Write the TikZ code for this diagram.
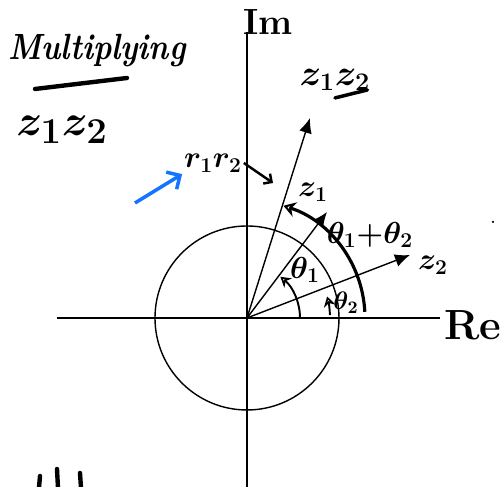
\documentclass[tikz,border=0pt]{standalone}
\usepackage{amsmath}
\usepackage{tikz}
\usetikzlibrary{arrows, arrows.meta, positioning, calc}

\begin{document}
\begin{tikzpicture}[
    axis/.style={line width=0.8pt},
    vec/.style={line width=0.8pt, -{Latex[length=3mm, width=2.6mm]}},
    angarc/.style={line width=1.1pt, -{Stealth[length=2mm, width=2.4mm, open]}},
    bigarc/.style={line width=1.8pt, -{Stealth[length=2.4mm, width=3mm, open]}},
    lab/.style={font=\huge\boldmath, inner sep=1pt},
    ink/.style={line width=2pt, line cap=round}
]
    \useasboundingbox (-4.94,-3.38) rectangle (5.12,6.36);

    % Axes and unit circle
    \coordinate (O) at (0,0);
    \coordinate (imtop) at (0,5.72);
    \coordinate (imbot) at (0,-3.38);
    \coordinate (releft) at (-3.8,0);
    \coordinate (reright) at (3.86,0);
    \draw[axis] (imbot) -- (imtop);
    \draw[axis] (releft) -- (reright);
    \draw[axis] (O) circle[radius=1.84];

    \node[font=\huge\bfseries] (im) at (0.42,5.92) {Im};
    \node[font=\fontsize{24}{26}\selectfont\bfseries, inner sep=0pt] (re) at (4.52,-0.14) {Re};

    % Vectors
    \coordinate (zprod) at (1.26,4.0);
    \coordinate (zone) at (1.6,2.12);
    \coordinate (ztwo) at (3.26,1.26);
    \draw[vec] (O) -- (zprod);
    \draw[vec] (O) -- (zone);
    \draw[vec] (O) -- (ztwo);

    % Angle arcs
    \draw[bigarc] (3:2.36) arc[start angle=3, end angle=72, radius=2.36];
    \draw[angarc] (0:1.06) arc[start angle=0, end angle=51, radius=1.06];
    \draw[angarc] (2:1.66) arc[start angle=2, end angle=15, radius=1.66];

    % Vector labels
    \node[lab] (prodlab) at (1.76,4.76) {$z_1z_2$};
    \draw[ink] ($(prodlab.south)+(0.0,-0.1)$) -- ($(prodlab.south east)+(-0.1,0.06)$);
    \node[lab, font=\LARGE\boldmath] (onelab) at (1.32,2.52) {$z_1$};
    \node[lab, font=\LARGE\boldmath] (twolab) at (3.72,1.06) {$z_2$};
    \node[lab, font=\LARGE\boldmath] (sumlab) at (2.46,1.66) {$\theta_1{+}\theta_2$};
    \node[lab, font=\LARGE\boldmath] (th1) at (1.16,0.96) {$\theta_1$};
    \node[lab, font=\Large\boldmath] (th2) at (1.98,0.3) {$\theta_2$};

    % Modulus note
    \node[lab, font=\LARGE\boldmath] (mod) at (-0.68,3.1) {$r_1r_2$};
    \coordinate (modtip) at (0.52,2.7);
    \draw[line width=1.4pt, -{Straight Barb[length=1.2mm]}] (mod.east) -- (modtip);

    % Title and notes on the left
    \node[font=\huge\itshape\bfseries, xscale=0.85] (title) at (-3.0,5.34) {Multiplying};
    \coordinate (ulstart) at (-4.24,4.58);
    \coordinate (ulend) at (-2.4,4.8);
    \draw[ink, line width=2.5pt] (ulstart) -- (ulend);
    \node[font=\fontsize{32}{34}\selectfont\boldmath] (prod) at (-3.7,3.76) {$z_1z_2$};

    \coordinate (bluestart) at (-2.24,2.3);
    \draw[line width=2pt, color={rgb,255:red,20;green,115;blue,255}, -{Straight Barb[length=2mm]}]
        (bluestart) -- (mod.south west);

    % Stray marks
    \fill (4.92,1.92) circle[radius=0.025];
    \draw[ink, line width=2.5pt] (-4.14,-3.16) -- (-4.16,-3.4);
    \draw[ink, line width=2.5pt] (-3.8,-3.02) -- (-3.78,-3.4);
    \draw[ink, line width=2.5pt] (-3.34,-3.1) -- (-3.32,-3.4);
\end{tikzpicture}
\end{document}
